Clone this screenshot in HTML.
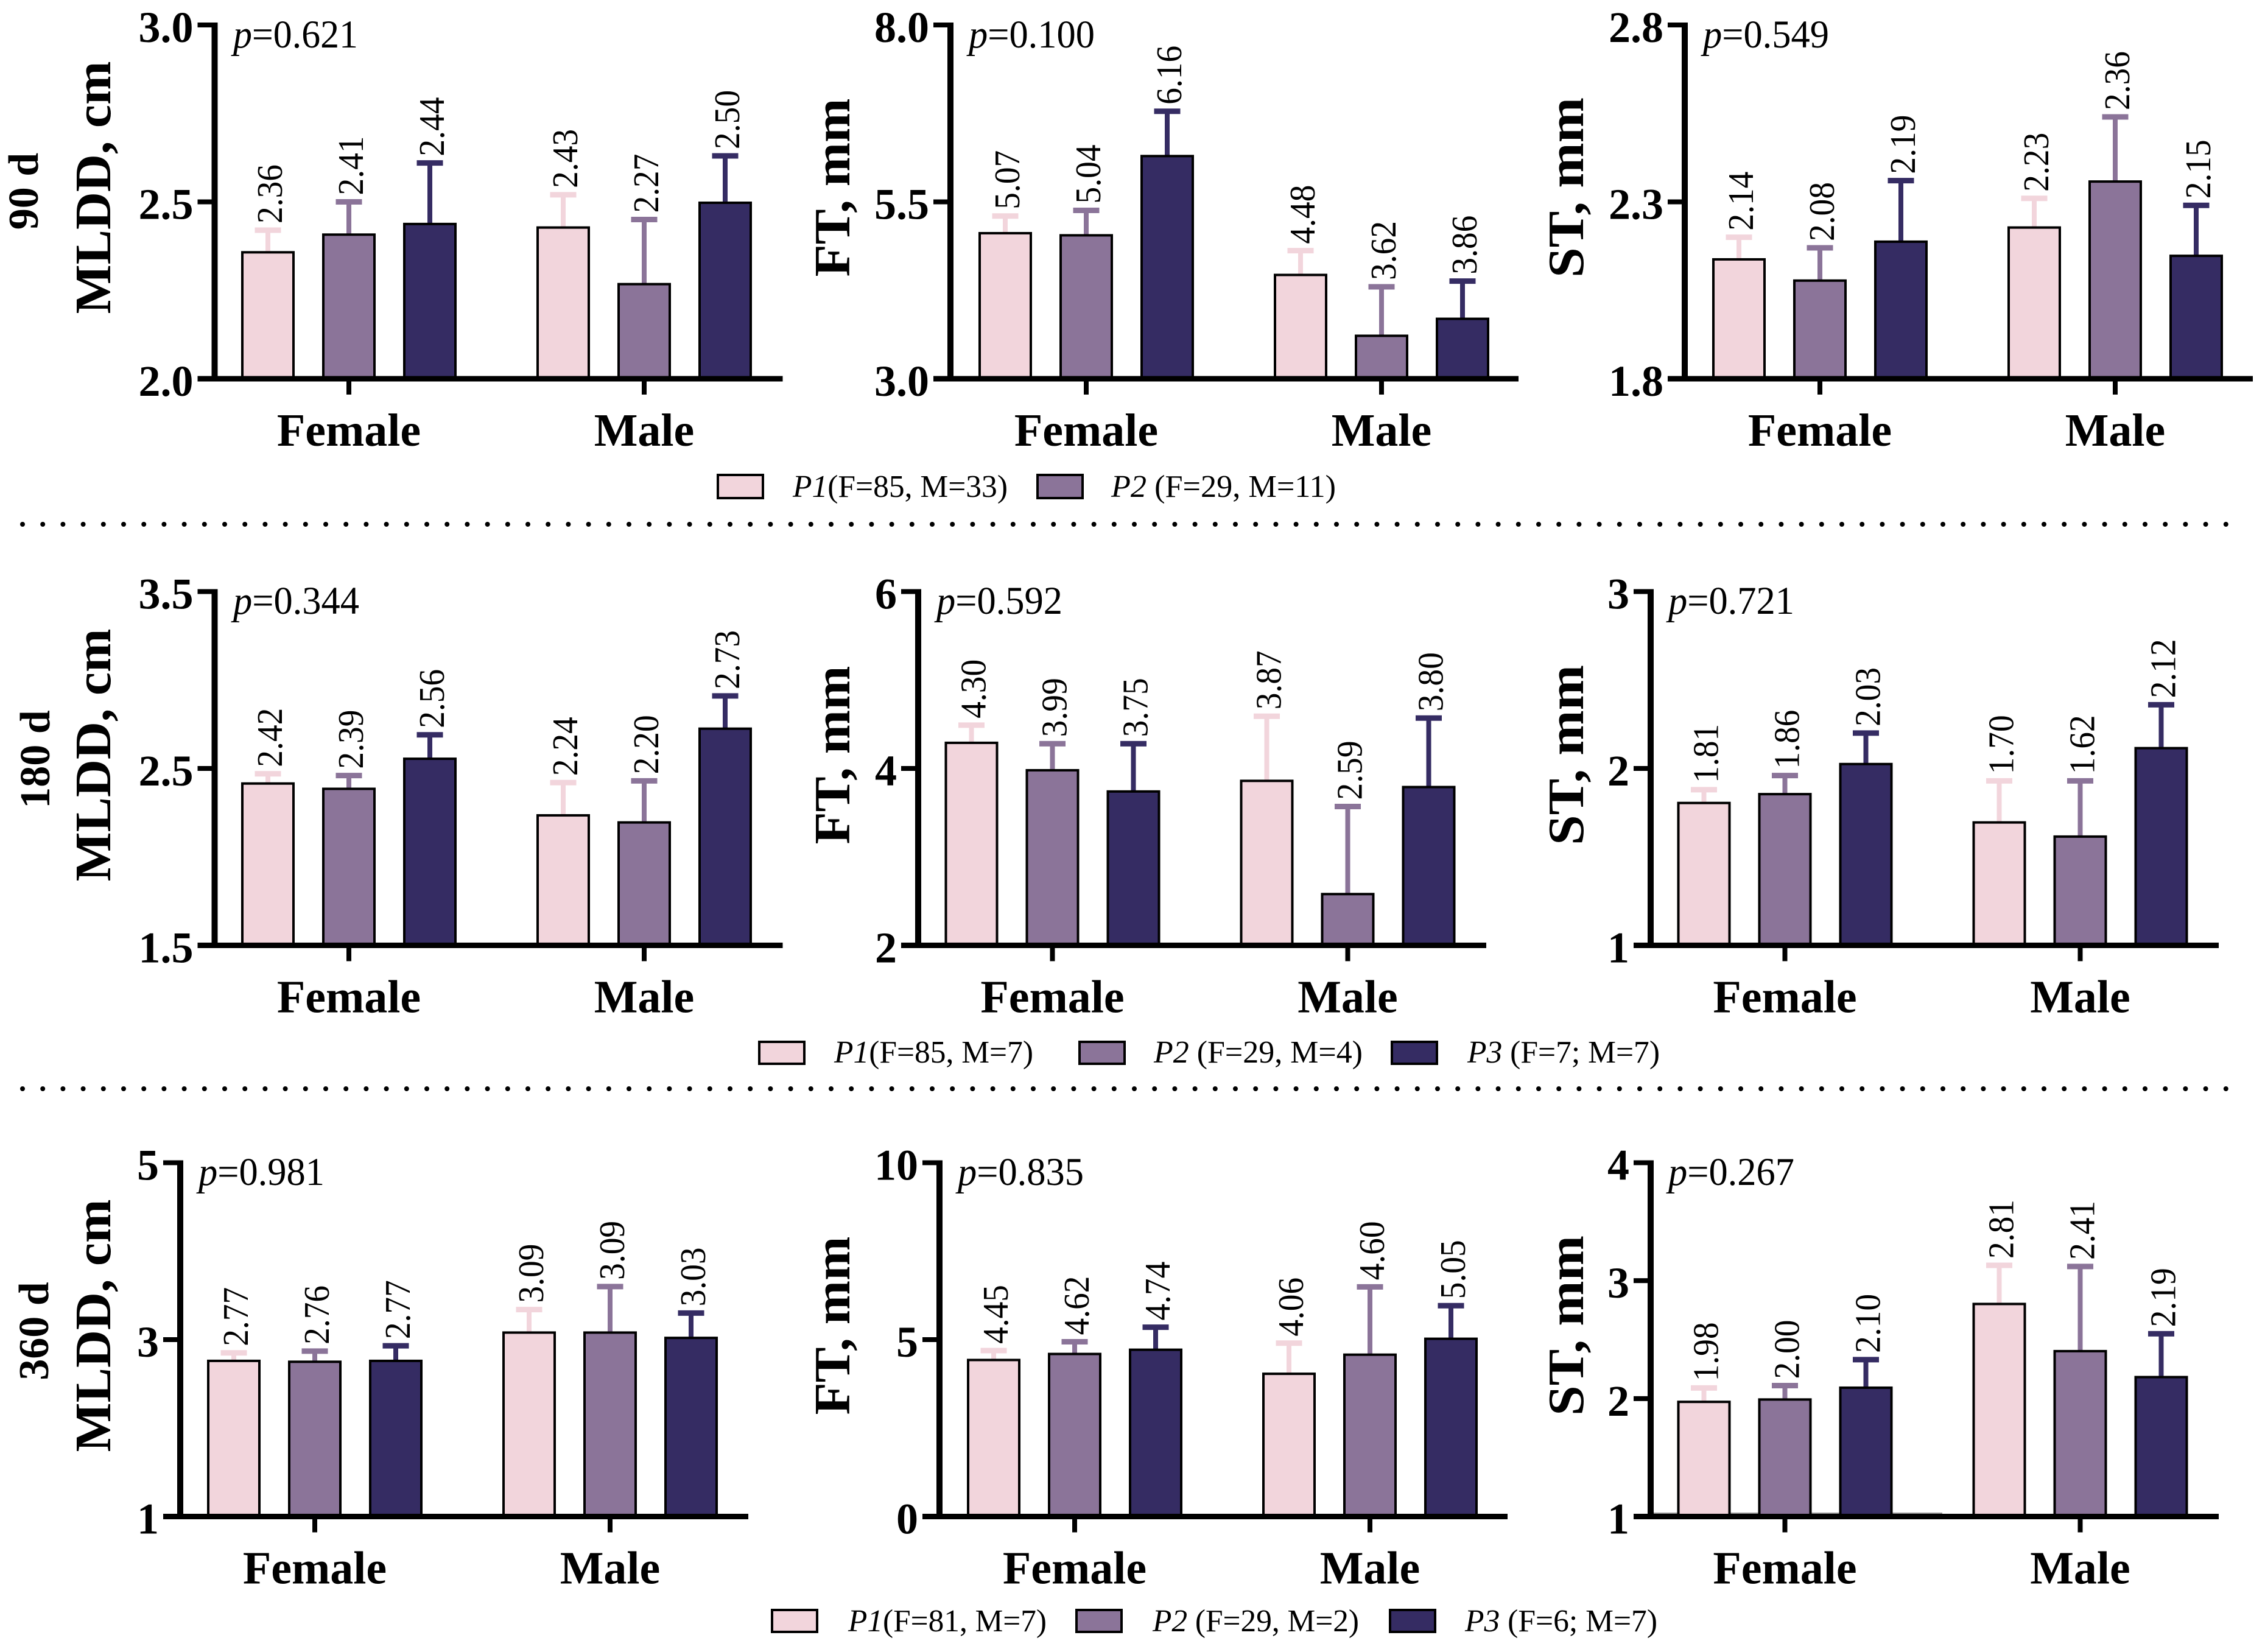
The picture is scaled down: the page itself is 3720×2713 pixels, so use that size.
<!DOCTYPE html>
<html lang="en">
<head>
<meta charset="utf-8">
<title>MLDD, FT and ST by period and sex</title>
<style>
html,body{margin:0;padding:0;background:#fff}
svg{display:block}
text{font-family:"Liberation Serif",serif;fill:#000}
.title{font-size:84px;font-weight:700;text-anchor:middle}
.row{font-size:70px;font-weight:700;text-anchor:middle}
.p{font-size:65px}
.lg{font-size:52px}
.i{font-style:italic}
</style>
</head>
<body>
<svg id="figure" xmlns="http://www.w3.org/2000/svg" width="3720" height="2713" viewBox="0 0 3720 2713">
<rect width="3720" height="2713" fill="#fff"/>

<text class="row" transform="translate(62,314) rotate(-90)">90 d</text>
<text class="row" transform="translate(81,1247) rotate(-90)">180 d</text>
<text class="row" transform="translate(79,2186) rotate(-90)">360 d</text>

<g id="p90mldd">
<text class="title" textLength="415" lengthAdjust="spacingAndGlyphs" transform="translate(181,308) rotate(-90)">MLDD, cm</text>
<text class="p" x="383" y="78" textLength="205" lengthAdjust="spacingAndGlyphs"><tspan class="i">p</tspan>=0.621</text>
</g>
<g id="p90ft">
<text class="title" textLength="293" lengthAdjust="spacingAndGlyphs" transform="translate(1395,308) rotate(-90)">FT, mm</text>
<text class="p" x="1591" y="78" textLength="207" lengthAdjust="spacingAndGlyphs"><tspan class="i">p</tspan>=0.100</text>
</g>
<g id="p90st">
<text class="title" textLength="296" lengthAdjust="spacingAndGlyphs" transform="translate(2600,308) rotate(-90)">ST, mm</text>
<text class="p" x="2797" y="78" textLength="207" lengthAdjust="spacingAndGlyphs"><tspan class="i">p</tspan>=0.549</text>
</g>

<g id="p180mldd">
<text class="title" textLength="415" lengthAdjust="spacingAndGlyphs" transform="translate(181,1240) rotate(-90)">MLDD, cm</text>
<text class="p" x="383" y="1008" textLength="207" lengthAdjust="spacingAndGlyphs"><tspan class="i">p</tspan>=0.344</text>
</g>
<g id="p180ft">
<text class="title" textLength="293" lengthAdjust="spacingAndGlyphs" transform="translate(1395,1240) rotate(-90)">FT, mm</text>
<text class="p" x="1538" y="1008" textLength="207" lengthAdjust="spacingAndGlyphs"><tspan class="i">p</tspan>=0.592</text>
</g>
<g id="p180st">
<text class="title" textLength="296" lengthAdjust="spacingAndGlyphs" transform="translate(2600,1240) rotate(-90)">ST, mm</text>
<text class="p" x="2740" y="1008" textLength="207" lengthAdjust="spacingAndGlyphs"><tspan class="i">p</tspan>=0.721</text>
</g>

<g id="p360mldd">
<text class="title" textLength="415" lengthAdjust="spacingAndGlyphs" transform="translate(181,2177) rotate(-90)">MLDD, cm</text>
<text class="p" x="326" y="1946" textLength="207" lengthAdjust="spacingAndGlyphs"><tspan class="i">p</tspan>=0.981</text>
</g>
<g id="p360ft">
<text class="title" textLength="293" lengthAdjust="spacingAndGlyphs" transform="translate(1395,2177) rotate(-90)">FT, mm</text>
<text class="p" x="1573" y="1946" textLength="207" lengthAdjust="spacingAndGlyphs"><tspan class="i">p</tspan>=0.835</text>
</g>
<g id="p360st">
<text class="title" textLength="296" lengthAdjust="spacingAndGlyphs" transform="translate(2600,2177) rotate(-90)">ST, mm</text>
<line x1="2715" y1="2485" x2="3190" y2="2485" stroke="#999" stroke-width="2"/>
<text class="p" x="2740" y="1946" textLength="207" lengthAdjust="spacingAndGlyphs"><tspan class="i">p</tspan>=0.267</text>
</g>

<g>
<rect x="1179" y="780" width="74" height="38" fill="#F2D5DC" stroke="#000" stroke-width="4"/>
<text class="lg" x="1302" y="816" textLength="353" lengthAdjust="spacingAndGlyphs"><tspan class="i">P1</tspan>(F=85, M=33)</text>
<rect x="1704" y="780" width="74" height="38" fill="#8B7499" stroke="#000" stroke-width="4"/>
<text class="lg" x="1825" y="816" textLength="369" lengthAdjust="spacingAndGlyphs"><tspan class="i">P2</tspan> (F=29, M=11)</text>
</g>
<g>
<rect x="1247" y="1711" width="74" height="36" fill="#F2D5DC" stroke="#000" stroke-width="4"/>
<text class="lg" x="1370" y="1745" textLength="327" lengthAdjust="spacingAndGlyphs"><tspan class="i">P1</tspan>(F=85, M=7)</text>
<rect x="1773" y="1711" width="74" height="36" fill="#8B7499" stroke="#000" stroke-width="4"/>
<text class="lg" x="1895" y="1745" textLength="343" lengthAdjust="spacingAndGlyphs"><tspan class="i">P2</tspan> (F=29, M=4)</text>
<rect x="2286" y="1711" width="74" height="36" fill="#352C63" stroke="#000" stroke-width="4"/>
<text class="lg" x="2410" y="1745" textLength="316" lengthAdjust="spacingAndGlyphs"><tspan class="i">P3</tspan> (F=7; M=7)</text>
</g>
<g>
<rect x="1268" y="2644" width="74" height="36" fill="#F2D5DC" stroke="#000" stroke-width="4"/>
<text class="lg" x="1393" y="2679" textLength="326" lengthAdjust="spacingAndGlyphs"><tspan class="i">P1</tspan>(F=81, M=7)</text>
<rect x="1768" y="2644" width="74" height="36" fill="#8B7499" stroke="#000" stroke-width="4"/>
<text class="lg" x="1893" y="2679" textLength="339" lengthAdjust="spacingAndGlyphs"><tspan class="i">P2</tspan> (F=29, M=2)</text>
<rect x="2283" y="2644" width="74" height="36" fill="#352C63" stroke="#000" stroke-width="4"/>
<text class="lg" x="2406" y="2679" textLength="316" lengthAdjust="spacingAndGlyphs"><tspan class="i">P3</tspan> (F=6; M=7)</text>
</g>

<line x1="37" y1="861" x2="3662" y2="861" stroke="#000" stroke-width="8" stroke-linecap="round" stroke-dasharray="0 33.2"/>
<line x1="37" y1="1788" x2="3662" y2="1788" stroke="#000" stroke-width="8" stroke-linecap="round" stroke-dasharray="0 33.2"/>
</svg>

<script>
const categories = ['Female', 'Male'];
const seriesColors = ['#F2D5DC', '#8B7499', '#352C63'];
const seriesNames = ['p1', 'p2', 'p3'];

const ticks90MLDD = ['2.0', '2.5', '3.0'];
const means90MLDD = [2.36, 2.41, 2.44, 2.43, 2.27, 2.50];
const upper90MLDD = [2.42, 2.50, 2.61, 2.52, 2.45, 2.63];

const ticks90FT = ['3.0', '5.5', '8.0'];
const means90FT = [5.07, 5.04, 6.16, 4.48, 3.62, 3.86];
const upper90FT = [5.30, 5.38, 6.78, 4.81, 4.30, 4.38];

const ticks90ST = ['1.8', '2.3', '2.8'];
const means90ST = [2.14, 2.08, 2.19, 2.23, 2.36, 2.15];
const upper90ST = [2.20, 2.17, 2.36, 2.31, 2.54, 2.29];

const ticks180MLDD = ['1.5', '2.5', '3.5'];
const means180MLDD = [2.42, 2.39, 2.56, 2.24, 2.20, 2.73];
const upper180MLDD = [2.47, 2.46, 2.69, 2.42, 2.43, 2.91];

const ticks180FT = ['2', '4', '6'];
const means180FT = [4.30, 3.99, 3.75, 3.87, 2.59, 3.80];
const upper180FT = [4.49, 4.28, 4.28, 4.59, 3.57, 4.57];

const ticks180ST = ['1', '2', '3'];
const means180ST = [1.81, 1.86, 2.03, 1.70, 1.62, 2.12];
const upper180ST = [1.88, 1.96, 2.20, 1.93, 1.93, 2.36];

const ticks360MLDD = ['1', '3', '5'];
const means360MLDD = [2.77, 2.76, 2.77, 3.09, 3.09, 3.03];
const upper360MLDD = [2.85, 2.87, 2.93, 3.34, 3.60, 3.30];

const ticks360FT = ['0', '5', '10'];
const means360FT = [4.45, 4.62, 4.74, 4.06, 4.60, 5.05];
const upper360FT = [4.69, 4.94, 5.35, 4.90, 6.49, 5.96];

const ticks360ST = ['1', '2', '3', '4'];
const means360ST = [1.98, 2.00, 2.10, 2.81, 2.41, 2.19];
const upper360ST = [2.09, 2.11, 2.33, 3.13, 3.12, 2.55];

const NS = 'http://www.w3.org/2000/svg';
const PLOT_HEIGHT = 581;
const BAR_WIDTH = 88;
const BAR_STEP = 133;
const GROUP_STEP = 485;
const AXIS_LENGTH = 933;

function shape(parent, tag, attrs) {
  const el = document.createElementNS(NS, tag);
  for (const k in attrs) el.setAttribute(k, attrs[k]);
  parent.appendChild(el);
  return el;
}
function yScale(ticks, top) {
  const lo = Number(ticks[0]);
  const hi = Number(ticks[ticks.length - 1]);
  return v => top + PLOT_HEIGHT - (v - lo) / (hi - lo) * PLOT_HEIGHT;
}
function barLeft(axisX, firstBar, index) {
  const group = Math.floor(index / 3);
  return axisX + firstBar + group * GROUP_STEP + (index % 3) * BAR_STEP;
}

function drawPanel(id, axisX, firstBar, top, ticks, means, upper) {
  const root = document.getElementById(id);
  const y = yScale(ticks, top);
  const base = top + PLOT_HEIGHT;

  means.forEach((m, i) => {
    const s = i % 3;
    const left = barLeft(axisX, firstBar, i);
    const cx = left + BAR_WIDTH / 2;
    const color = seriesColors[s];
    const stem = shape(root, 'line', {x1: cx, x2: cx, y1: y(m), y2: y(upper[i]), stroke: color, 'stroke-width': 8});
    
    
    const cap = shape(root, 'line', {x1: cx - 21.5, x2: cx + 21.5, y1: y(upper[i]), y2: y(upper[i]), stroke: color, 'stroke-width': 9});
    
    
    const bar = shape(root, 'rect', {x: left + 2, y: y(m) + 1.5, width: BAR_WIDTH - 4, height: base - y(m) - 1.5, fill: color, stroke: '#000', 'stroke-width': 4});
    
    
    const label = shape(root, 'text', {
      transform: 'translate(' + (cx + 23) + ',' + (y(upper[i]) - 11) + ') rotate(-90)',
      'font-size': 59, textLength: 97, lengthAdjust: 'spacingAndGlyphs'
    });
    label.textContent = m.toFixed(2);
    
    
  });

  const yAxis = shape(root, 'line', {x1: axisX, x2: axisX, y1: top - 4, y2: base + 4, stroke: '#000', 'stroke-width': 10});
  
  
  const xAxis = shape(root, 'line', {x1: axisX - 28, x2: axisX + AXIS_LENGTH, y1: base, y2: base, stroke: '#000', 'stroke-width': 9});
  
  

  ticks.forEach(t => {
    const ty = y(Number(t));
    const mark = shape(root, 'line', {x1: axisX - 28, x2: axisX, y1: ty, y2: ty, stroke: '#000', 'stroke-width': 8});
    
    
    const lab = shape(root, 'text', {x: axisX - 35, y: ty + 28, 'font-size': 72, 'font-weight': 700, 'text-anchor': 'end'});
    lab.textContent = t;
    
    
  });

  categories.forEach((c, g) => {
    const cx = barLeft(axisX, firstBar, g * 3 + 1) + BAR_WIDTH / 2;
    const mark = shape(root, 'line', {x1: cx, x2: cx, y1: base, y2: base + 26, stroke: '#000', 'stroke-width': 8});
    
    
    const lab = shape(root, 'text', {x: cx, y: base + 110, 'font-size': 76, 'font-weight': 700, 'text-anchor': 'middle'});
    lab.textContent = c;
    
    
  });
}

drawPanel('p90mldd', 352.5, 43.5, 41, ticks90MLDD, means90MLDD, upper90MLDD);
drawPanel('p90ft', 1561, 46, 41, ticks90FT, means90FT, upper90FT);
drawPanel('p90st', 2767, 45, 41, ticks90ST, means90ST, upper90ST);
drawPanel('p180mldd', 352.5, 43.5, 971.5, ticks180MLDD, means180MLDD, upper180MLDD);
drawPanel('p180ft', 1508, 43.5, 971.5, ticks180FT, means180FT, upper180FT);
drawPanel('p180st', 2711, 43.5, 971.5, ticks180ST, means180ST, upper180ST);
drawPanel('p360mldd', 296, 44, 1909.5, ticks360MLDD, means360MLDD, upper360MLDD);
drawPanel('p360ft', 1543, 45, 1909.5, ticks360FT, means360FT, upper360FT);
drawPanel('p360st', 2711, 43.5, 1909.5, ticks360ST, means360ST, upper360ST);
</script>
</body>
</html>
